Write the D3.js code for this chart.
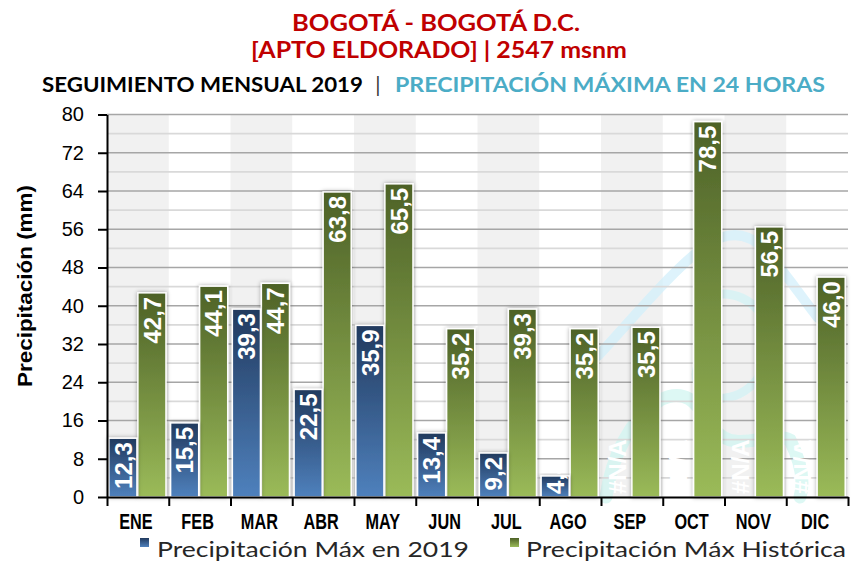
<!DOCTYPE html>
<html>
<head>
<meta charset="utf-8">
<script src="https://cdn.jsdelivr.net/npm/d3@7"></script>
<style>
  html, body { margin: 0; padding: 0; background: #fff; }
  svg { display: block; }
</style>
</head>
<body>
<svg id="chart" width="853" height="563"></svg>
<script>
// ---- data ----
const months = ["ENE","FEB","MAR","ABR","MAY","JUN","JUL","AGO","SEP","OCT","NOV","DIC"];
const max2019 = [12.3, 15.5, 39.3, 22.5, 35.9, 13.4, 9.2, 4.4, null, null, null, null];
const maxHist = [42.7, 44.1, 44.7, 63.8, 65.5, 35.2, 39.3, 35.2, 35.5, 78.5, 56.5, 46.0];
const yTicks = [0, 8, 16, 24, 32, 40, 48, 56, 64, 72, 80];
const seriesNames = ["Precipitación Máx en 2019", "Precipitación Máx Histórica"];
const titleLine1 = "BOGOTÁ - BOGOTÁ D.C.";
const titleLine2 = "[APTO ELDORADO] | 2547 msnm";
const titleLine3a = "SEGUIMIENTO MENSUAL 2019";
const titleLine3b = "PRECIPITACIÓN MÁXIMA EN 24 HORAS";
const yTitle = "Precipitación (mm)";

(function () {
const svg = d3.select("#chart");
const pL = 107, pR = 848, pT = 114.5, pB = 497;

const x = d3.scaleBand().domain(months).range([pL, pR]).padding(0);
const xi = d3.scaleLinear().domain([0, months.length]).range([pL, pR]);
const y = d3.scaleLinear().domain([0, 80]).range([pB, pT]);

// ---- defs ----
const defs = svg.append("defs");
function grad(id, c1, c2) {
  const g = defs.append("linearGradient").attr("id", id)
    .attr("x1", 0).attr("y1", 0).attr("x2", 0).attr("y2", 1);
  g.append("stop").attr("offset", "0%").attr("stop-color", c1);
  g.append("stop").attr("offset", "100%").attr("stop-color", c2);
}
grad("gBlue", "#213a5e", "#4f81bd");
grad("gGreen", "#4d6127", "#9bbb59");
const f = defs.append("filter").attr("id", "shadow").attr("x", "-30%").attr("y", "-10%").attr("width", "160%").attr("height", "120%");
f.append("feDropShadow").attr("dx", 0).attr("dy", 0).attr("stdDeviation", 2)
  .attr("flood-color", "#000").attr("flood-opacity", 0.35);

// ---- titles ----
const tf = "Lato, 'DejaVu Sans', sans-serif";
svg.append("text").attr("x", 292).attr("y", 31).attr("textLength", 288).attr("lengthAdjust", "spacingAndGlyphs")
  .attr("font-family", tf).attr("font-weight", 700).attr("font-size", 23)
  .attr("fill", "#c00000").text(titleLine1);
svg.append("text").attr("x", 251).attr("y", 58).attr("textLength", 376).attr("lengthAdjust", "spacingAndGlyphs")
  .attr("font-family", tf).attr("font-weight", 700).attr("font-size", 23)
  .attr("fill", "#c00000").text(titleLine2);
svg.append("text").attr("x", 42).attr("y", 92).attr("textLength", 321).attr("lengthAdjust", "spacingAndGlyphs")
  .attr("font-family", tf).attr("font-weight", 700).attr("font-size", 21)
  .attr("fill", "#000").text(titleLine3a);
svg.append("text").attr("x", 378).attr("y", 92).attr("text-anchor", "middle")
  .attr("font-family", tf).attr("font-weight", 400).attr("font-size", 21)
  .attr("fill", "#333").text("|");
svg.append("text").attr("x", 395).attr("y", 92).attr("textLength", 430).attr("lengthAdjust", "spacingAndGlyphs")
  .attr("font-family", tf).attr("font-weight", 700).attr("font-size", 21)
  .attr("fill", "#4bacc6").text(titleLine3b);

// ---- plot background stripes ----
svg.append("g").selectAll("rect").data(months.filter((d, i) => i % 2 === 0)).join("rect")
  .attr("x", d => x(d)).attr("y", pT).attr("width", x.bandwidth()).attr("height", pB - pT)
  .attr("fill", "#f1f1f1");

// ---- watermark (faint logo) ----
const wm = svg.append("g").attr("fill", "none").attr("stroke-linecap", "round").attr("opacity", 0.75);
wm.append("path").attr("d", "M598,356 C640,310 675,268 705,246 C728,230 748,232 765,250 C785,272 800,295 818,318")
  .attr("stroke", "#d3f0fb").attr("stroke-width", 10);
wm.append("path").attr("d", "M700,300 C730,285 760,300 768,330 C776,365 752,395 725,398 C700,400 690,378 700,362")
  .attr("stroke", "#d3f3f6").attr("stroke-width", 9);
wm.append("path").attr("d", "M606,497 C612,455 630,420 660,400 C690,385 700,410 715,430 C735,455 770,430 790,440 C800,460 805,480 800,497")
  .attr("stroke", "#d2f6f1").attr("stroke-width", 13);

// ---- gridlines ----
const gridVals = d3.range(4, 81, 4);
svg.append("g").selectAll("line").data(gridVals).join("line")
  .attr("x1", pL).attr("x2", pR).attr("y1", d => y(d)).attr("y2", d => y(d))
  .attr("stroke", d => d % 8 === 0 ? "#a6a6a6" : "#d9d9d9").attr("stroke-width", 1.6);

// ---- bars ----
const bw = x.bandwidth() * 0.455;
const rows = months.map((m, i) => ({ m, a: max2019[i], b: maxHist[i] }));
const barsG = svg.append("g");
barsG.selectAll("rect.b").data(rows).join("rect").attr("class", "b")
  .attr("x", d => x(d.m) + x.bandwidth() * 0.5).attr("width", bw)
  .attr("y", d => y(d.b)).attr("height", d => y(0) - y(d.b))
  .attr("fill", "url(#gGreen)").attr("stroke", "#fff").attr("stroke-width", 1.5)
  .attr("filter", "url(#shadow)");
barsG.selectAll("rect.a").data(rows.filter(d => d.a != null)).join("rect").attr("class", "a")
  .attr("x", d => x(d.m) + x.bandwidth() * 0.03).attr("width", bw)
  .attr("y", d => y(d.a)).attr("height", d => y(0) - y(d.a))
  .attr("fill", "url(#gBlue)").attr("stroke", "#fff").attr("stroke-width", 1.5)
  .attr("filter", "url(#shadow)");

// ---- data labels ----
const fmt = v => v == null ? "#N/A" : v.toFixed(1).replace(".", ",");
function addLabels(key, offset) {
  const g = svg.append("g");
  rows.forEach(d => {
    const v = d[key];
    const cx = x(d.m) + offset + bw / 2;
    const t = g.append("text")
      .attr("font-family", "'Liberation Sans', Arial, sans-serif").attr("font-weight", 700)
      .attr("font-size", 24).attr("fill", "#fff").attr("text-anchor", "end")
      .attr("dy", "0.36em").text(fmt(v));
    const len = t.node().getComputedTextLength();
    const barTop = v == null ? y(0) : y(v);
    const ay = Math.min(barTop + 4, y(0) - 3 - len);
    t.attr("transform", `translate(${cx},${ay}) rotate(-90)`);
  });
}
addLabels("a", x.bandwidth() * 0.03);
addLabels("b", x.bandwidth() * 0.5);

// ---- axes ----
const yAxis = svg.append("g").attr("transform", `translate(${pL},0)`)
  .call(d3.axisLeft(y).tickValues(yTicks).tickSize(9).tickPadding(14).tickSizeOuter(0));
yAxis.select(".domain").attr("stroke", "#000").attr("stroke-width", 2);
yAxis.selectAll(".tick line").attr("stroke", "#000").attr("stroke-width", 2);
yAxis.selectAll(".tick text").attr("font-family", "'Liberation Sans', Arial, sans-serif")
  .attr("font-size", 20).attr("fill", "#000");

const xTicksAxis = svg.append("g").attr("transform", `translate(0,${pB})`)
  .call(d3.axisBottom(xi).tickValues(d3.range(0, months.length + 1)).tickSize(9).tickFormat("").tickSizeOuter(0));
xTicksAxis.select(".domain").attr("stroke", "#000").attr("stroke-width", 2);
xTicksAxis.selectAll(".tick line").attr("stroke", "#000").attr("stroke-width", 2);

const xl = svg.append("g");
months.forEach(m => {
  xl.append("g").attr("transform", `translate(${x(m) + x.bandwidth() / 2 - 2},529) scale(0.74,1)`)
    .append("text").attr("text-anchor", "middle")
    .attr("font-family", "'Liberation Sans', Arial, sans-serif").attr("font-weight", 700)
    .attr("font-size", 22).attr("fill", "#000").text(m);
});

// ---- y title ----
svg.append("text").attr("transform", "translate(32,286) rotate(-90)").attr("text-anchor", "middle")
  .attr("font-family", "'Liberation Sans', Arial, sans-serif").attr("font-weight", 700)
  .attr("font-size", 21).attr("fill", "#000").attr("textLength", 202).attr("lengthAdjust", "spacingAndGlyphs")
  .text(yTitle);

// ---- legend ----
const legendItems = [
  { name: seriesNames[0], fill: "url(#gBlue)", mx: 140, tx: 157, tl: 312 },
  { name: seriesNames[1], fill: "url(#gGreen)", mx: 510, tx: 526, tl: 320 }
];
legendItems.forEach(it => {
  svg.append("rect").attr("x", it.mx).attr("y", 538).attr("width", 9).attr("height", 9).attr("fill", it.fill);
  svg.append("text").attr("x", it.tx).attr("y", 557).attr("textLength", it.tl).attr("lengthAdjust", "spacingAndGlyphs")
    .attr("font-family", tf).attr("font-size", 21).attr("fill", "#262626")
    .text(it.name);
});
})();
</script>
</body>
</html>
